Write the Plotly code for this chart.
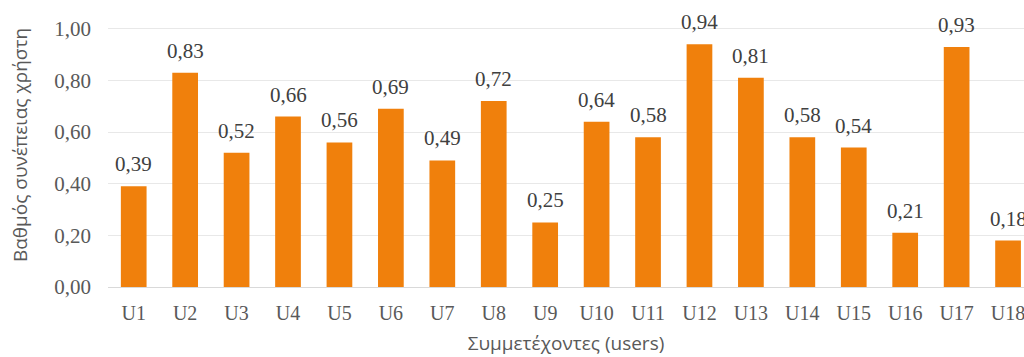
import plotly.graph_objects as go

categories = ["U1", "U2", "U3", "U4", "U5", "U6", "U7", "U8", "U9", "U10",
              "U11", "U12", "U13", "U14", "U15", "U16", "U17", "U18"]
values = [0.39, 0.83, 0.52, 0.66, 0.56, 0.69, 0.49, 0.72, 0.25, 0.64,
          0.58, 0.94, 0.81, 0.58, 0.54, 0.21, 0.93, 0.18]
y_ticks = [0.0, 0.2, 0.4, 0.6, 0.8, 1.0]

serif = "Liberation Serif, Times New Roman, serif"
sans = "Open Sans, Noto Sans, sans-serif"
gray = "#595959"

xs = list(range(len(categories)))

fig = go.Figure(go.Bar(
    x=xs,
    y=values,
    marker=dict(color="#F0800C", line=dict(width=0)),
    cliponaxis=True,
    width=0.5,
    hoverinfo="skip",
))

annotations = []
for xi, v in zip(xs, values):
    annotations.append(dict(
        x=xi, y=v, xref="x", yref="y",
        text=f"{v:.2f}".replace(".", ","),
        showarrow=False, yanchor="middle", yshift=22,
        font=dict(family=serif, size=21, color="#404040"),
    ))

fig.update_layout(
    width=1024, height=357,
    margin=dict(l=108, r=0, t=3, b=70),
    paper_bgcolor="white", plot_bgcolor="white",
    separators=",.",
    showlegend=False,
    annotations=annotations,
    xaxis=dict(
        tickvals=xs,
        ticktext=categories,
        range=[-0.5, 17.31],
        showgrid=False,
        showline=True, linecolor="#D9D9D9", linewidth=1,
        ticks="", ticklabelstandoff=8,
        ticklabeloverflow="allow",
        tickfont=dict(family=serif, size=20, color=gray),
        title=dict(text="Συμμετέχοντες (users)", standoff=13,
                   font=dict(family=sans, size=19, color=gray)),
    ),
    yaxis=dict(
        range=[0, 1.1],
        tickvals=y_ticks,
        tickformat=".2f",
        showgrid=True, gridcolor="#E8E8E8", gridwidth=1,
        zeroline=False,
        showline=False,
        ticks="", ticklabelstandoff=16,
        tickfont=dict(family=serif, size=21, color=gray),
        title=dict(text="Βαθμός συνέπειας χρήστη", standoff=21,
                   font=dict(family=sans, size=19, color=gray)),
    ),
)

fig.write_html("out.html")
